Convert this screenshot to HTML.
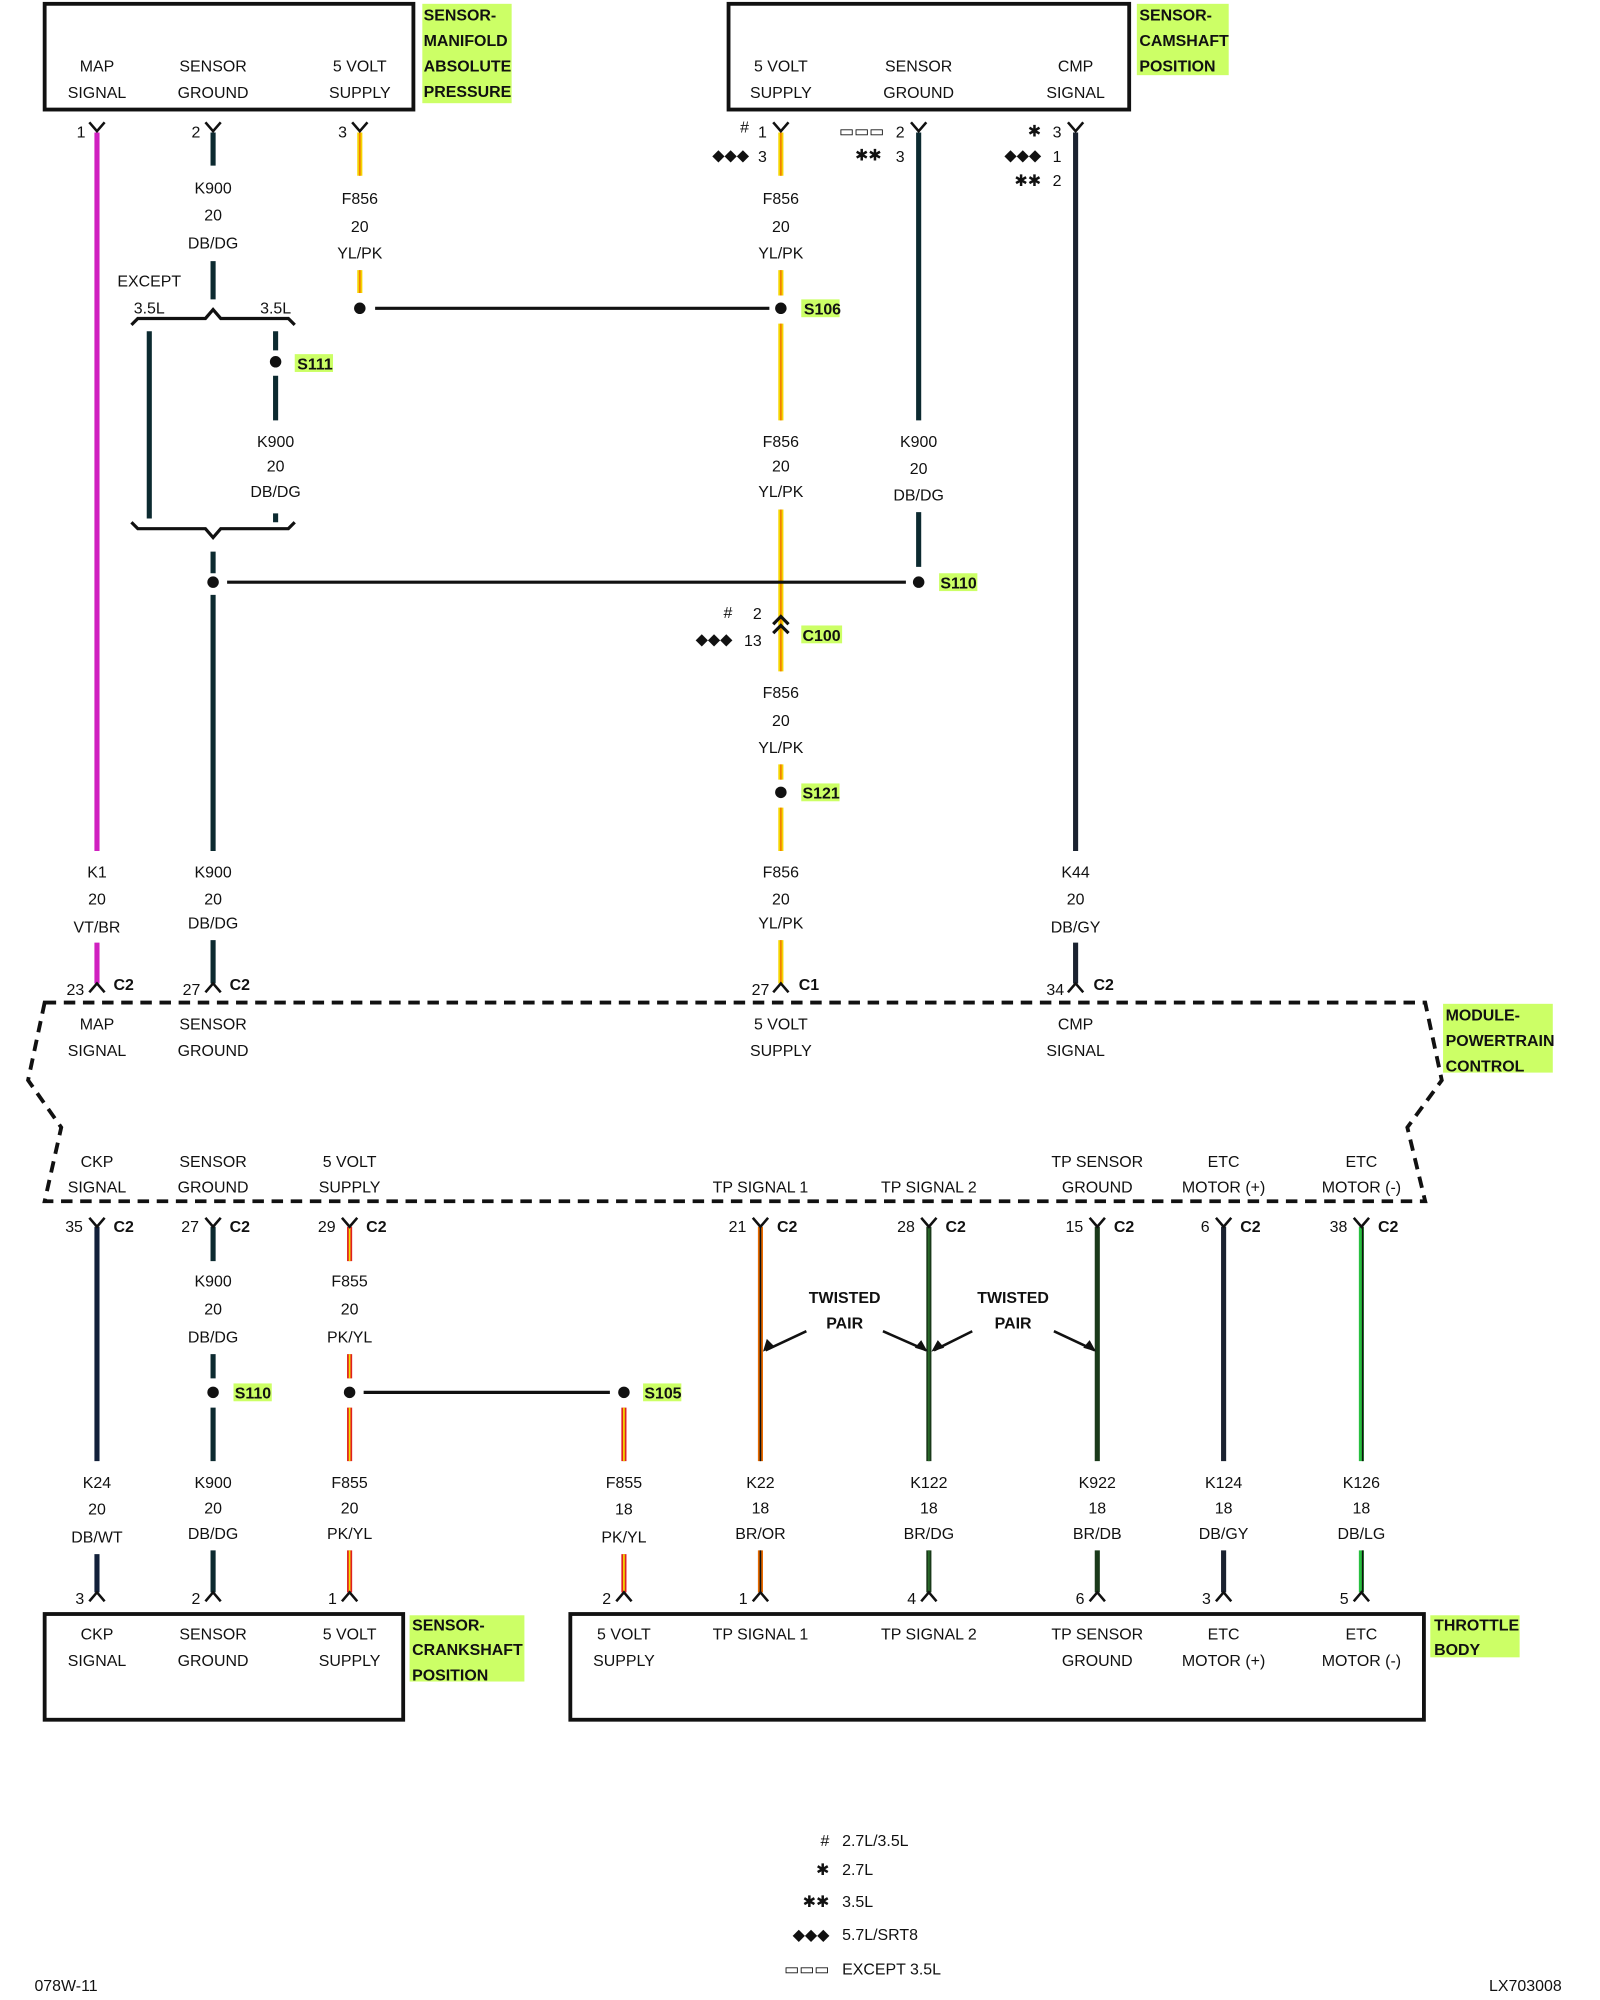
<!DOCTYPE html>
<html><head><meta charset="utf-8"><style>
html,body{margin:0;padding:0;background:#fff}
svg{display:block}
text{font-family:"Liberation Sans",sans-serif;font-size:12.5px;fill:#111;text-anchor:middle}
.b{font-weight:bold}
.g{font-weight:bold;fill:#111;text-anchor:start}
.s{text-anchor:start}
.e{text-anchor:end}
</style></head><body>
<svg width="1600" height="2000" viewBox="0 0 1254 1570" preserveAspectRatio="none" xmlns="http://www.w3.org/2000/svg">
<g fill="none" stroke="#111" stroke-width="3">
<rect x="35" y="3" width="289" height="83"/>
<rect x="571" y="3" width="314" height="83"/>
<rect x="35" y="1267" width="281" height="83"/>
<rect x="447" y="1267" width="669" height="83"/>
<path d="M35 787 H1117 L1130 848 L1103 885 L1117 943 H35 L48 885 L22 848 Z" stroke-dasharray="9 6"/>
</g>
<g fill="#ccff66">
<rect x="331" y="3" width="70" height="78"/>
<rect x="891" y="3" width="72" height="56"/>
<rect x="1131" y="788" width="86" height="54"/>
<rect x="321" y="1268" width="90" height="52"/>
<rect x="1121" y="1268" width="70" height="33"/>
<rect x="231" y="278" width="30" height="14"/>
<rect x="628" y="235" width="30" height="14"/>
<rect x="736" y="450" width="30" height="14"/>
<rect x="628" y="491" width="32" height="14"/>
<rect x="628" y="615" width="30" height="14"/>
<rect x="183" y="1086" width="30" height="14"/>
<rect x="504" y="1086" width="30" height="14"/>
</g>
<g class="g">
<text class="g" x="332" y="16">SENSOR-</text><text class="g" x="332" y="36">MANIFOLD</text><text class="g" x="332" y="56">ABSOLUTE</text><text class="g" x="332" y="76">PRESSURE</text>
<text class="g" x="893" y="16">SENSOR-</text><text class="g" x="893" y="36">CAMSHAFT</text><text class="g" x="893" y="56">POSITION</text>
<text class="g" x="1133" y="801">MODULE-</text><text class="g" x="1133" y="821">POWERTRAIN</text><text class="g" x="1133" y="841">CONTROL</text>
<text class="g" x="323" y="1280">SENSOR-</text><text class="g" x="323" y="1299">CRANKSHAFT</text><text class="g" x="323" y="1319">POSITION</text>
<text class="g" x="1124" y="1280">THROTTLE</text><text class="g" x="1124" y="1299">BODY</text>
<text class="g" x="233" y="290">S111</text><text class="g" x="630" y="247">S106</text><text class="g" x="737" y="462">S110</text>
<text class="g" x="629" y="503">C100</text><text class="g" x="629" y="627">S121</text>
<text class="g" x="184" y="1098">S110</text><text class="g" x="505" y="1098">S105</text>
</g>
<text x="76" y="56">MAP</text><text x="76" y="77">SIGNAL</text>
<text x="167" y="56">SENSOR</text><text x="167" y="77">GROUND</text>
<text x="282" y="56">5 VOLT</text><text x="282" y="77">SUPPLY</text>
<text x="612" y="56">5 VOLT</text><text x="612" y="77">SUPPLY</text>
<text x="720" y="56">SENSOR</text><text x="720" y="77">GROUND</text>
<text x="843" y="56">CMP</text><text x="843" y="77">SIGNAL</text>
<text x="76" y="808">MAP</text><text x="76" y="829">SIGNAL</text>
<text x="167" y="808">SENSOR</text><text x="167" y="829">GROUND</text>
<text x="612" y="808">5 VOLT</text><text x="612" y="829">SUPPLY</text>
<text x="843" y="808">CMP</text><text x="843" y="829">SIGNAL</text>
<text x="76" y="916">CKP</text><text x="76" y="936">SIGNAL</text>
<text x="167" y="916">SENSOR</text><text x="167" y="936">GROUND</text>
<text x="274" y="916">5 VOLT</text><text x="274" y="936">SUPPLY</text>
<text x="596" y="936">TP SIGNAL 1</text><text x="728" y="936">TP SIGNAL 2</text>
<text x="860" y="916">TP SENSOR</text><text x="860" y="936">GROUND</text>
<text x="959" y="916">ETC</text><text x="959" y="936">MOTOR (+)</text>
<text x="1067" y="916">ETC</text><text x="1067" y="936">MOTOR (-)</text>
<text x="76" y="1287">CKP</text><text x="76" y="1308">SIGNAL</text>
<text x="167" y="1287">SENSOR</text><text x="167" y="1308">GROUND</text>
<text x="274" y="1287">5 VOLT</text><text x="274" y="1308">SUPPLY</text>
<text x="489" y="1287">5 VOLT</text><text x="489" y="1308">SUPPLY</text>
<text x="596" y="1287">TP SIGNAL 1</text><text x="728" y="1287">TP SIGNAL 2</text>
<text x="860" y="1287">TP SENSOR</text><text x="860" y="1308">GROUND</text>
<text x="959" y="1287">ETC</text><text x="959" y="1308">MOTOR (+)</text>
<text x="1067" y="1287">ETC</text><text x="1067" y="1308">MOTOR (-)</text>
<g fill="none" stroke-width="4">
<path stroke="#d020c0" d="M76 104V668M76 740V772"/>
<path stroke="#0c2a30" d="M167 104V130M167 205V235M117 260V407M216 260V275M216 295V330M216 403V410M167 433V450M167 467V668M167 738V772"/>
<path stroke="#f5d400" d="M282 104V138M282 212V230M612 104V138M612 212V232M612 254V330M612 400V527M612 600V612M612 634V668M612 738V772"/>
<path stroke="#0c2a30" d="M720 104V330M720 402V445"/>
<path stroke="#1a2230" d="M843 104V668M843 740V772"/>
<path stroke="#12203a" d="M76 963V1147M76 1220V1250"/>
<path stroke="#0c2a30" d="M167 963V990M167 1063V1082M167 1105V1147M167 1217V1250"/>
<path stroke="#e02020" d="M274 963V990M274 1063V1082M274 1105V1147M274 1217V1250M489 1105V1147M489 1220V1250"/>
<path stroke="#e86a00" d="M596 963V1147M596 1217V1250"/>
<path stroke="#1a3a1a" d="M728 963V1147M728 1217V1250M860 963V1147M860 1217V1250"/>
<path stroke="#1a2230" d="M959 963V1147M959 1217V1250"/>
<path stroke="#28c040" d="M1067 963V1147M1067 1217V1250"/>
</g>
<g fill="none" stroke-width="1.3">
<path stroke="#f08000" d="M612 104V138M612 212V232M612 254V330M612 400V527M612 600V612M612 634V668M612 738V772M282 104V138M282 212V230"/>
<path stroke="#f0e000" d="M274 963V990M274 1063V1082M274 1105V1147M274 1217V1250M489 1105V1147M489 1220V1250"/>
<path stroke="#111" d="M596 963V1147M596 1217V1250M1068 963V1147M1068 1217V1250"/>
<path stroke="#2a6a2a" d="M728 963V1147M728 1217V1250"/>
</g>
<g fill="none" stroke="#111" stroke-width="2.5">
<path d="M294 242H603M178 457H710M285 1093H478"/>
<path d="M103 255L108 250H161L167 243L173 250H226L231 255"/>
<path d="M103 410L108 415H161L167 422L173 415H226L231 410"/>
<path d="M606 490L612 484L618 490M606 497L612 491L618 497"/>
<path stroke-width="2" d="M70 96L76 103L82 96M161 96L167 103L173 96M276 96L282 103L288 96M606 96L612 103L618 96M714 96L720 103L726 96M837 96L843 103L849 96
M70 779L76 772L82 779M161 779L167 772L173 779M606 779L612 772L618 779M837 779L843 772L849 779
M70 956L76 963L82 956M161 956L167 963L173 956M268 956L274 963L280 956M590 956L596 963L602 956M722 956L728 963L734 956M854 956L860 963L866 956M953 956L959 963L965 956M1061 956L1067 963L1073 956
M70 1257L76 1250L82 1257M161 1257L167 1250L173 1257M268 1257L274 1250L280 1257M483 1257L489 1250L495 1257M590 1257L596 1250L602 1257M722 1257L728 1250L734 1257M854 1257L860 1250L866 1257M953 1257L959 1250L965 1257M1061 1257L1067 1250L1073 1257"/>
<path stroke-width="2" d="M632 1045L600 1060M692 1045L726 1060M762 1045L732 1060M826 1045L858 1060"/>
</g>
<g fill="#111">
<circle cx="216" cy="284" r="4.5"/><circle cx="282" cy="242" r="4.5"/><circle cx="612" cy="242" r="4.5"/>
<circle cx="167" cy="457" r="4.5"/><circle cx="720" cy="457" r="4.5"/><circle cx="612" cy="622" r="4.5"/>
<circle cx="167" cy="1093" r="4.5"/><circle cx="274" cy="1093" r="4.5"/><circle cx="489" cy="1093" r="4.5"/>
<path d="M598 1061L601 1051L607 1057ZM727 1061L717 1058L722 1052ZM730 1061L735 1052L740 1058ZM859 1061L849 1058L854 1052Z"/>
</g>
<text x="167" y="152">K900</text><text x="167" y="173">20</text><text x="167" y="195">DB/DG</text>
<text x="282" y="160">F856</text><text x="282" y="182">20</text><text x="282" y="203">YL/PK</text>
<text x="612" y="160">F856</text><text x="612" y="182">20</text><text x="612" y="203">YL/PK</text>
<text x="117" y="225">EXCEPT</text><text x="117" y="246">3.5L</text><text x="216" y="246">3.5L</text>
<text x="216" y="351">K900</text><text x="216" y="370">20</text><text x="216" y="390">DB/DG</text>
<text x="612" y="351">F856</text><text x="612" y="370">20</text><text x="612" y="390">YL/PK</text>
<text x="720" y="351">K900</text><text x="720" y="372">20</text><text x="720" y="393">DB/DG</text>
<text x="612" y="548">F856</text><text x="612" y="570">20</text><text x="612" y="591">YL/PK</text>
<text x="76" y="689">K1</text><text x="76" y="710">20</text><text x="76" y="732">VT/BR</text>
<text x="167" y="689">K900</text><text x="167" y="710">20</text><text x="167" y="729">DB/DG</text>
<text x="612" y="689">F856</text><text x="612" y="710">20</text><text x="612" y="729">YL/PK</text>
<text x="843" y="689">K44</text><text x="843" y="710">20</text><text x="843" y="732">DB/GY</text>
<text x="274" y="1010">F855</text><text x="274" y="1032">20</text><text x="274" y="1054">PK/YL</text>
<text x="167" y="1010">K900</text><text x="167" y="1032">20</text><text x="167" y="1054">DB/DG</text>
<text x="76" y="1168">K24</text><text x="76" y="1189">20</text><text x="76" y="1211">DB/WT</text>
<text x="167" y="1168">K900</text><text x="167" y="1188">20</text><text x="167" y="1208">DB/DG</text>
<text x="274" y="1168">F855</text><text x="274" y="1188">20</text><text x="274" y="1208">PK/YL</text>
<text x="489" y="1168">F855</text><text x="489" y="1189">18</text><text x="489" y="1211">PK/YL</text>
<text x="596" y="1168">K22</text><text x="596" y="1188">18</text><text x="596" y="1208">BR/OR</text>
<text x="728" y="1168">K122</text><text x="728" y="1188">18</text><text x="728" y="1208">BR/DG</text>
<text x="860" y="1168">K922</text><text x="860" y="1188">18</text><text x="860" y="1208">BR/DB</text>
<text x="959" y="1168">K124</text><text x="959" y="1188">18</text><text x="959" y="1208">DB/GY</text>
<text x="1067" y="1168">K126</text><text x="1067" y="1188">18</text><text x="1067" y="1208">DB/LG</text>
<text class="b" x="662" y="1023">TWISTED</text><text class="b" x="662" y="1043">PAIR</text>
<text class="b" x="794" y="1023">TWISTED</text><text class="b" x="794" y="1043">PAIR</text>
<text class="e" x="67" y="108">1</text><text class="e" x="157" y="108">2</text><text class="e" x="272" y="108">3</text>
<text class="e" x="601" y="108">1</text><text class="e" x="587" y="104">#</text>
<text class="e" x="601" y="127">3</text><text class="e" x="587" y="126">◆◆◆</text>
<text class="e" x="709" y="108">2</text><text class="e" x="693" y="107">▭▭▭</text>
<text class="e" x="709" y="127">3</text><text class="e" x="691" y="126">✱✱</text>
<text class="e" x="832" y="108">3</text><text class="e" x="816" y="107">✱</text>
<text class="e" x="832" y="127">1</text><text class="e" x="816" y="126">◆◆◆</text>
<text class="e" x="832" y="146">2</text><text class="e" x="816" y="146">✱✱</text>
<text class="e" x="597" y="486">2</text><text class="e" x="574" y="485">#</text>
<text class="e" x="597" y="507">13</text><text class="e" x="574" y="506">◆◆◆</text>
<text class="e" x="66" y="781">23</text><text class="b s" x="89" y="777">C2</text>
<text class="e" x="157" y="781">27</text><text class="b s" x="180" y="777">C2</text>
<text class="e" x="603" y="781">27</text><text class="b s" x="626" y="777">C1</text>
<text class="e" x="834" y="781">34</text><text class="b s" x="857" y="777">C2</text>
<text class="e" x="65" y="967">35</text><text class="b s" x="89" y="967">C2</text>
<text class="e" x="156" y="967">27</text><text class="b s" x="180" y="967">C2</text>
<text class="e" x="263" y="967">29</text><text class="b s" x="287" y="967">C2</text>
<text class="e" x="585" y="967">21</text><text class="b s" x="609" y="967">C2</text>
<text class="e" x="717" y="967">28</text><text class="b s" x="741" y="967">C2</text>
<text class="e" x="849" y="967">15</text><text class="b s" x="873" y="967">C2</text>
<text class="e" x="948" y="967">6</text><text class="b s" x="972" y="967">C2</text>
<text class="e" x="1056" y="967">38</text><text class="b s" x="1080" y="967">C2</text>
<text class="e" x="66" y="1259">3</text><text class="e" x="157" y="1259">2</text><text class="e" x="264" y="1259">1</text>
<text class="e" x="479" y="1259">2</text><text class="e" x="586" y="1259">1</text><text class="e" x="718" y="1259">4</text>
<text class="e" x="850" y="1259">6</text><text class="e" x="949" y="1259">3</text><text class="e" x="1057" y="1259">5</text>
<text class="e" x="650" y="1449">#</text><text class="s" x="660" y="1449">2.7L/3.5L</text>
<text class="e" x="650" y="1472">✱</text><text class="s" x="660" y="1472">2.7L</text>
<text class="e" x="650" y="1497">✱✱</text><text class="s" x="660" y="1497">3.5L</text>
<text class="e" x="650" y="1523">◆◆◆</text><text class="s" x="660" y="1523">5.7L/SRT8</text>
<text class="e" x="650" y="1550">▭▭▭</text><text class="s" x="660" y="1550">EXCEPT 3.5L</text>
<text class="s" x="27" y="1563">078W-11</text>
<text class="e" x="1224" y="1563">LX703008</text>
</svg>
</body></html>
